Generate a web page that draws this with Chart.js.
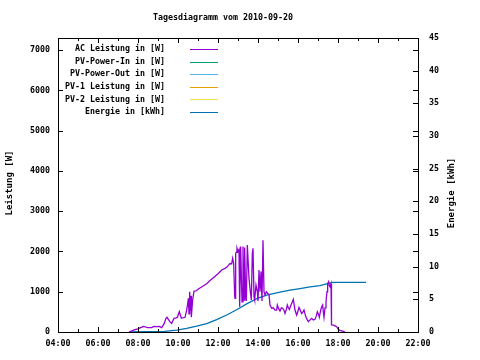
<!DOCTYPE html>
<html><head><meta charset="utf-8">
<script src="https://cdn.jsdelivr.net/npm/chart.js@4/dist/chart.umd.min.js"></script>
<style>html,body{margin:0;padding:0;background:#fff}#wrap{width:480px;height:360px}</style>
</head><body><div id="wrap"><canvas id="c" width="480" height="360"></canvas></div>
<script>
const titleText = 'Tagesdiagramm vom 2010-09-20';
const leftAxisTitle = 'Leistung [W]';
const rightAxisTitle = 'Energie [kWh]';

const seriesLabels = ['AC Leistung in [W]', 'PV-Power-In in [W]', 'PV-Power-Out in [W]',
  'PV-1 Leistung in [W]', 'PV-2 Leistung in [W]', 'Energie in [kWh]'];
const seriesColors = ['#9400d3', '#009e73', '#56b4e9', '#e69f00', '#f0e442', '#0072b2'];

// tick values
const xTickHours = [4, 6, 8, 10, 12, 14, 16, 18, 20, 22];
const yTickWatts = [0, 1000, 2000, 3000, 4000, 5000, 6000, 7000];
const y2TickKWh = [0, 5, 10, 15, 20, 25, 30, 35, 40, 45];

// AC power (time of day, watts)
const acTimes = ['07:33','07:45','07:51','08:00','08:06','08:12','08:16','08:22','08:28','08:41','08:48','08:55',
 '09:04','09:11','09:18','09:24','09:27','09:31','09:36','09:41','09:48','09:55','09:58','10:04','10:07','10:10',
 '10:21','10:26','10:29','10:31','10:33','10:35','10:37','10:39','10:40','10:44','10:48','10:54','11:00','11:13',
 '11:26','11:36','11:46','12:01','12:11','12:21','12:26','12:36','12:41','12:44','12:47','12:50','12:51','12:53',
 '12:55','12:57','13:00','13:03','13:05','13:08','13:12','13:15','13:18','13:20','13:23','13:25','13:28','13:30',
 '13:33','13:37','13:40','13:43','13:45','13:48','13:50','13:54','13:58','14:00','14:03','14:06','14:09','14:12',
 '14:15','14:18','14:21','14:25','14:30','14:33','14:36','14:41','14:46','14:51','14:56','14:58','15:02','15:06',
 '15:10','15:14','15:18','15:21','15:25','15:28','15:31','15:34','15:38','15:41','15:46','15:49','15:51','15:56',
 '16:00','16:03','16:07','16:11','16:15','16:18','16:21','16:24','16:28','16:31','16:36','16:41','16:46','16:51',
 '16:55','16:58','17:01','17:04','17:08','17:11','17:14','17:16','17:18','17:21','17:24','17:27','17:29','17:32',
 '17:34','17:36','17:39','17:40','17:41','17:46','17:51','17:56','18:01','18:06','18:11','18:16','18:21'];
const acWatts = [0,40,60,80,100,120,140,130,110,110,140,135,
 140,110,200,340,365,315,250,215,340,350,365,505,420,340,
 365,545,700,835,450,1000,520,900,365,800,1015,1020,1060,1130,
 1200,1280,1350,1455,1540,1580,1605,1700,1690,1830,1700,900,835,1950,
 1980,2080,2000,2050,630,2120,750,2120,795,2100,875,770,2160,1830,
 1330,1000,795,1950,2080,875,800,1165,1000,770,1540,1000,1500,770,
 2280,1000,920,1000,950,935,670,590,600,545,545,670,580,520,
 600,590,540,460,560,670,600,560,650,710,810,650,545,420,
 520,610,540,460,500,545,450,365,300,255,300,340,300,315,
 400,505,450,365,545,620,670,500,365,600,750,1000,1200,1250,
 1150,1125,1200,600,175,170,150,130,65,40,30,15,0];

// series without data on this day
const pvInTimes = [], pvInWatts = [];
const pvOutTimes = [], pvOutWatts = [];
const pv1Times = [], pv1Watts = [];
const pv2Times = [], pv2Watts = [];

// cumulative energy (time of day, kWh)
const energyTimes = ['07:33','09:20','09:56','10:26','10:56','11:26','11:56','12:26','12:56','13:26','13:56',
 '14:26','15:06','15:36','16:06','16:36','17:06','17:31','17:45','19:24'];
const energyKWh = [0,0.1,0.3,0.55,0.9,1.3,1.9,2.6,3.4,4.3,5.1,5.65,6.1,6.4,6.65,6.9,7.1,7.45,7.6,7.6];

const xMin = 4, xMax = 22;
const yMax = 7300;
const y2Max = 45;

function toHour(t){ const [h,m] = t.split(':').map(Number); return h + m/60; }
function pts(times, vals){ return times.map((t,i)=>({x: toHour(t), y: vals[i]})); }

const FONT = 'DejaVu Sans Mono';
const tickFont = {family: FONT, size: 8.3, weight: 'bold'};
const CSSFONT = 'bold 8.3px "' + FONT + '"';

const seriesData = [pts(acTimes, acWatts), pts(pvInTimes, pvInWatts), pts(pvOutTimes, pvOutWatts),
  pts(pv1Times, pv1Watts), pts(pv2Times, pv2Watts), pts(energyTimes, energyKWh)];

const datasets = seriesLabels.map((lab, i) => ({
  label: lab, data: seriesData[i], borderColor: seriesColors[i], backgroundColor: seriesColors[i],
  borderWidth: 1.3, pointRadius: 0, tension: 0, fill: false,
  yAxisID: i === 5 ? 'y2' : 'y'
}));

const gnuplotDecor = {
  id: 'gnuplotDecor',
  afterDraw(chart) {
    const {ctx, chartArea: a, scales} = chart;
    ctx.save();
    ctx.strokeStyle = '#000'; ctx.lineWidth = 1;
    ctx.strokeRect(a.left + 0.5, a.top + 0.5, a.right - a.left, a.bottom - a.top);
    ctx.beginPath();
    const xs = scales.x;
    for (let h = Math.ceil(xs.min); h <= xs.max; h++) {
      const px = Math.round(xs.getPixelForValue(h)) + 0.5;
      const len = xTickHours.includes(h) ? 5 : 3;
      ctx.moveTo(px, a.bottom); ctx.lineTo(px, a.bottom - len);
      ctx.moveTo(px, a.top); ctx.lineTo(px, a.top + len);
    }
    scales.y.ticks.forEach(t => {
      const py = Math.round(scales.y.getPixelForValue(t.value)) + 0.5;
      ctx.moveTo(a.left, py); ctx.lineTo(a.left + 5, py);
      ctx.moveTo(a.right, py); ctx.lineTo(a.right - 5, py);
    });
    scales.y2.ticks.forEach(t => {
      const py = Math.round(scales.y2.getPixelForValue(t.value)) + 0.5;
      ctx.moveTo(a.right, py); ctx.lineTo(a.right - 5, py);
    });
    ctx.stroke();

    ctx.fillStyle = '#000';
    ctx.font = CSSFONT;
    ctx.textAlign = 'center'; ctx.textBaseline = 'middle';
    ctx.fillText(titleText, chart.width / 2 - 17, 18);

    ctx.font = 'bold 9px "' + FONT + '"';
    ctx.save(); ctx.translate(10, (a.top + a.bottom) / 2 - 2); ctx.rotate(-Math.PI / 2);
    ctx.fillText(leftAxisTitle, 0, 0); ctx.restore();
    ctx.save(); ctx.translate(452, (a.top + a.bottom) / 2 + 8); ctx.rotate(-Math.PI / 2);
    ctx.fillText(rightAxisTitle, 0, 0); ctx.restore();

    ctx.font = CSSFONT;
    ctx.textAlign = 'right';
    chart.data.datasets.forEach((ds, i) => {
      const yy = a.top + 11 + i * 12.6;
      ctx.fillStyle = '#000';
      ctx.fillText(ds.label, a.left + 107, yy);
      ctx.strokeStyle = ds.borderColor;
      ctx.beginPath();
      const ly = Math.round(yy) + 0.5;
      ctx.moveTo(a.left + 132, ly); ctx.lineTo(a.left + 160, ly);
      ctx.stroke();
    });
    ctx.restore();
  }
};

new Chart(document.getElementById('c'), {
  type: 'line',
  data: {datasets},
  options: {
    responsive: false, animation: false,
    layout: {padding: {top: 38, left: 0, right: 0, bottom: 0}},
    plugins: {legend: {display: false}, title: {display: false}, tooltip: {enabled: false}},
    scales: {
      x: {type: 'linear', position: 'bottom', min: xMin, max: xMax,
        afterBuildTicks: s => { s.ticks = xTickHours.map(v => ({value: v})); },
        ticks: {autoSkip: false, maxRotation: 0, padding: 7, color: '#000', font: tickFont,
          callback: v => String(v).padStart(2, '0') + ':00'},
        grid: {display: false, drawTicks: false}, border: {display: false},
        afterFit: s => { s.height = 28; }},
      y: {type: 'linear', position: 'left', min: 0, max: yMax,
        afterBuildTicks: s => { s.ticks = yTickWatts.map(v => ({value: v})); },
        ticks: {padding: 8, color: '#000', font: tickFont, callback: v => String(v)},
        grid: {display: false, drawTicks: false}, border: {display: false},
        afterFit: s => { s.width = 58; }},
      y2: {type: 'linear', position: 'right', min: 0, max: y2Max,
        afterBuildTicks: s => { s.ticks = y2TickKWh.map(v => ({value: v})); },
        ticks: {padding: 11, color: '#000', font: tickFont, callback: v => String(v)},
        grid: {display: false, drawTicks: false}, border: {display: false},
        afterFit: s => { s.width = 62; }}
    }
  },
  plugins: [gnuplotDecor]
});
</script>
</body></html>
